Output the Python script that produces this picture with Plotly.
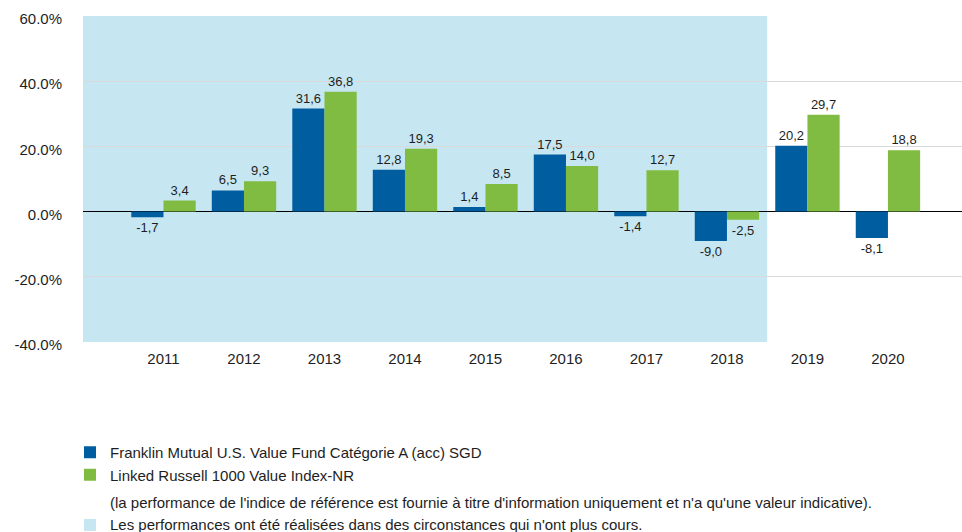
import plotly.graph_objects as go

years = ["2011", "2012", "2013", "2014", "2015", "2016", "2017", "2018", "2019", "2020"]
fund = [-1.7, 6.5, 31.6, 12.8, 1.4, 17.5, -1.4, -9.0, 20.2, -8.1]
index = [3.4, 9.3, 36.8, 19.3, 8.5, 14.0, 12.7, -2.5, 29.7, 18.8]
fund_name = "Franklin Mutual U.S. Value Fund Catégorie A (acc) SGD"
index_name = "Linked Russell 1000 Value Index-NR"
note_text = "(la performance de l'indice de référence est fournie à titre d'information uniquement et n'a qu'une valeur indicative)."
shade_text = "Les performances ont été réalisées dans des circonstances qui n'ont plus cours."
shade_until = 7.5  # shaded region ends between 2018 and 2019
y_ticks = [-40, -20, 0, 20, 40, 60]
y_ticktext = ["-40.0%", "-20.0%", "0.0%", "20.0%", "40.0%", "60.0%"]

BLUE = "#005DA0"
GREEN = "#80BC41"
SHADE = "#C6E7F2"
TXT = "#1E1E1E"
FONT = "Liberation Sans, Arial, sans-serif"

W, H = 962, 532
L, R, T, B = 83, 0, 16, 190
PW, PH = W - L - R, H - T - B

xs = list(range(len(years)))

def fmt(v):
    return f"{v:.1f}".replace(".", ",")

def px_x(px):
    return (px - L) / PW

def px_y(py):
    return (H - B - py) / PH

fig = go.Figure()
fig.add_trace(go.Bar(x=xs, y=fund, name=fund_name, marker_color=BLUE, marker_line_width=0,
                     text=[fmt(v) for v in fund], textposition="outside",
                     textfont=dict(size=13, color=TXT), cliponaxis=False))
fig.add_trace(go.Bar(x=xs, y=index, name=index_name, marker_color=GREEN, marker_line_width=0,
                     text=[fmt(v) for v in index], textposition="outside",
                     textfont=dict(size=13, color=TXT), cliponaxis=False))

fig.add_shape(type="rect", xref="x", yref="paper", x0=-1, x1=shade_until, y0=0, y1=1,
              fillcolor=SHADE, line_width=0, layer="below")

# extra legend lines
fig.add_annotation(xref="paper", yref="paper", x=px_x(108), y=px_y(502),
                   text=note_text, showarrow=False, xanchor="left", yanchor="middle",
                   font=dict(size=15, color=TXT, family=FONT))
fig.add_shape(type="rect", xref="paper", yref="paper",
              x0=px_x(84), x1=px_x(96), y0=px_y(531), y1=px_y(519),
              fillcolor=SHADE, line_width=0)
fig.add_annotation(xref="paper", yref="paper", x=px_x(108), y=px_y(524),
                   text=shade_text, showarrow=False, xanchor="left", yanchor="middle",
                   font=dict(size=15, color=TXT, family=FONT))

fig.update_layout(
    width=W, height=H,
    margin=dict(l=L, r=R, t=T, b=B, autoexpand=False),
    paper_bgcolor="white", plot_bgcolor="white",
    barmode="group", bargap=0.2, bargroupgap=0,
    font=dict(family=FONT, size=15, color=TXT),
    showlegend=True,
    legend=dict(x=px_x(70), y=px_y(436), xanchor="left", yanchor="top",
                orientation="v", font=dict(size=15, color=TXT), bgcolor="rgba(0,0,0,0)",
                traceorder="normal"),
    xaxis=dict(range=[-1, 9.92], tickvals=xs, ticktext=years, showgrid=False,
               zeroline=False, showline=False, ticks="", automargin=False,
               tickfont=dict(size=15, color=TXT), ticklabelstandoff=6),
    yaxis=dict(range=[-40, 60], tickvals=y_ticks, ticktext=y_ticktext,
               showgrid=True, gridcolor="#D9D9D9", gridwidth=1,
               zeroline=True, zerolinecolor="#000000", zerolinewidth=1,
               ticks="", automargin=False, tickfont=dict(size=15, color=TXT),
               ticklabelstandoff=20, ticklabelshift=3),
)

fig.write_html("out.html", config={"displayModeBar": False},
               post_script="document.body.style.margin='0';document.body.style.overflow='hidden';")
